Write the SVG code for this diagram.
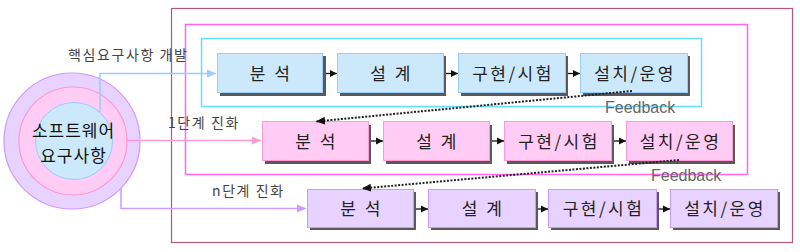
<svg xmlns="http://www.w3.org/2000/svg" width="800" height="252" viewBox="0 0 800 252">
<defs>
<style>
text{font-family:"Noto Sans CJK KR","Noto Sans",sans-serif;}
.box{stroke-width:1}
.b1{fill:#cce9fb;stroke:#99ccff}
.b2{fill:#ffccf5;stroke:#ff99d6}
.b3{fill:#e8d2ff;stroke:#cc99ff}
.sh{fill:#5a5a5a}
.bt{font-size:17px;fill:#222;text-anchor:middle;letter-spacing:2.5px}
.lbl{font-size:14px;fill:#444;letter-spacing:1.6px}
.fb{font-family:"Liberation Sans",Arial,sans-serif;font-size:16px;fill:#666}
.step{stroke:#111;stroke-width:1.3;fill:none}
.dot{stroke:#222;stroke-width:2;stroke-dasharray:2 1.5;fill:none}
</style>
<marker id="ah" markerWidth="8" markerHeight="8" refX="7" refY="4" orient="auto" markerUnits="userSpaceOnUse">
<path d="M0,0.5 L7,4 L0,7.5 Z" fill="#111"/>
</marker>
<marker id="ahb" markerWidth="10" markerHeight="10" refX="9" refY="5" orient="auto" markerUnits="userSpaceOnUse">
<path d="M0,1 L9,5 L0,9 Z" fill="#99ccff"/>
</marker>
<marker id="ahp" markerWidth="10" markerHeight="10" refX="9" refY="5" orient="auto" markerUnits="userSpaceOnUse">
<path d="M0,1 L9,5 L0,9 Z" fill="#ff99d6"/>
</marker>
<marker id="ahl" markerWidth="10" markerHeight="10" refX="9" refY="5" orient="auto" markerUnits="userSpaceOnUse">
<path d="M0,1 L9,5 L0,9 Z" fill="#cc99ff"/>
</marker>
<marker id="ahd" markerWidth="10" markerHeight="10" refX="9" refY="5" orient="auto" markerUnits="userSpaceOnUse">
<path d="M0,1 L9,5 L0,9 Z" fill="#111"/>
</marker>
</defs>
<rect width="800" height="252" fill="#fff"/>

<g id="frames">
<rect x="171.5" y="8.5" width="621" height="234" fill="none" stroke="#b5587f" stroke-width="1.2"/>
<rect x="185.5" y="24.5" width="562" height="150" fill="none" stroke="#ff66ee" stroke-width="1.5"/>
<rect x="201.5" y="38.5" width="500" height="68" fill="none" stroke="#66ddff" stroke-width="1.5"/>
</g>

<g id="requirements">
<circle cx="72" cy="141" r="68" fill="#e8d2ff" stroke="#cc99ff" stroke-width="1.2"/>
<circle cx="73" cy="141" r="54" fill="#ffccf5" stroke="#ff99cc" stroke-width="1.2"/>
<circle cx="74" cy="141" r="38.5" fill="#cce9fb" stroke="#99ccff" stroke-width="1"/>
<text x="73.5" y="137" style="font-size:17px;fill:#111;text-anchor:middle;letter-spacing:1px">소프트웨어</text>
<text x="73.5" y="162" style="font-size:17px;fill:#111;text-anchor:middle;letter-spacing:1px">요구사항</text>
</g>

<g id="labels">
<text class="lbl" x="68" y="60">핵심요구사항 개발</text>
<text class="lbl" x="168" y="128">1단계 진화</text>
<text class="lbl" x="212" y="196">n단계 진화</text>
<text class="fb" x="605" y="113">Feedback</text>
<text class="fb" x="651" y="181">Feedback</text>
</g>

<g id="row1">
<g id="r1-analysis"><rect class="sh" x="220" y="56" width="106" height="40"/><rect class="box b1" x="217.5" y="53.5" width="105" height="39"/><text class="bt" x="271" y="80">분 석</text></g>
<g id="r1-design"><rect class="sh" x="340" y="56" width="106" height="40"/><rect class="box b1" x="337.5" y="53.5" width="106" height="39"/><text class="bt" x="391.5" y="80">설 계</text></g>
<g id="r1-impl"><rect class="sh" x="461" y="56" width="107" height="40"/><rect class="box b1" x="458.5" y="53.5" width="107" height="39"/><text class="bt" x="513" y="80">구현/시험</text></g>
<g id="r1-ops"><rect class="sh" x="583" y="56" width="107" height="40"/><rect class="box b1" x="580.5" y="53.5" width="107" height="39"/><text class="bt" x="635" y="80">설치/운영</text></g>
</g>

<g id="row2">
<g id="r2-analysis"><rect class="sh" x="265" y="125" width="106" height="39"/><rect class="box b2" x="262.5" y="121.5" width="106" height="39"/><text class="bt" x="316.5" y="147.5">분 석</text></g>
<g id="r2-design"><rect class="sh" x="386" y="125" width="106" height="39"/><rect class="box b2" x="383.5" y="121.5" width="106" height="39"/><text class="bt" x="437.5" y="147.5">설 계</text></g>
<g id="r2-impl"><rect class="sh" x="507" y="125" width="107" height="39"/><rect class="box b2" x="504.5" y="121.5" width="107" height="39"/><text class="bt" x="559" y="147.5">구현/시험</text></g>
<g id="r2-ops"><rect class="sh" x="629" y="125" width="106" height="39"/><rect class="box b2" x="626.5" y="121.5" width="106" height="39"/><text class="bt" x="680.5" y="147.5">설치/운영</text></g>
</g>

<g id="row3">
<g id="r3-analysis"><rect class="sh" x="310" y="192" width="106" height="38"/><rect class="box b3" x="307.5" y="189.5" width="106" height="38"/><text class="bt" x="361.5" y="215">분 석</text></g>
<g id="r3-design"><rect class="sh" x="431" y="192" width="107" height="38"/><rect class="box b3" x="428.5" y="189.5" width="107" height="38"/><text class="bt" x="483" y="215">설 계</text></g>
<g id="r3-impl"><rect class="sh" x="551" y="192" width="108" height="38"/><rect class="box b3" x="548.5" y="189.5" width="108" height="38"/><text class="bt" x="603.5" y="215">구현/시험</text></g>
<g id="r3-ops"><rect class="sh" x="673" y="192" width="107" height="38"/><rect class="box b3" x="670.5" y="189.5" width="107" height="38"/><text class="bt" x="725" y="215">설치/운영</text></g>
</g>

<g id="connectors">
<path d="M100,112 V73.5 H216" stroke="#99ccff" stroke-width="1.5" fill="none" marker-end="url(#ahb)"/>
<path d="M127,140.5 H261" stroke="#ff99d6" stroke-width="1.5" fill="none" marker-end="url(#ahp)"/>
<path d="M121,188 V208.5 H306" stroke="#cc99ff" stroke-width="1.5" fill="none" marker-end="url(#ahl)"/>

<line class="step" x1="326" y1="73.5" x2="337" y2="73.5" marker-end="url(#ah)"/>
<line class="step" x1="446" y1="73.5" x2="458" y2="73.5" marker-end="url(#ah)"/>
<line class="step" x1="568" y1="73.5" x2="580" y2="73.5" marker-end="url(#ah)"/>

<line class="step" x1="371" y1="141" x2="383" y2="141" marker-end="url(#ah)"/>
<line class="step" x1="492" y1="141" x2="504" y2="141" marker-end="url(#ah)"/>
<line class="step" x1="614" y1="141" x2="626" y2="141" marker-end="url(#ah)"/>

<line class="step" x1="416" y1="209" x2="428" y2="209" marker-end="url(#ah)"/>
<line class="step" x1="538" y1="209" x2="548" y2="209" marker-end="url(#ah)"/>
<line class="step" x1="659" y1="209" x2="670" y2="209" marker-end="url(#ah)"/>

<path class="dot" d="M632,91 L316,121.5" marker-end="url(#ahd)"/>
<path class="dot" d="M679,160 L362,188.5" marker-end="url(#ahd)"/>
</g>
</svg>
